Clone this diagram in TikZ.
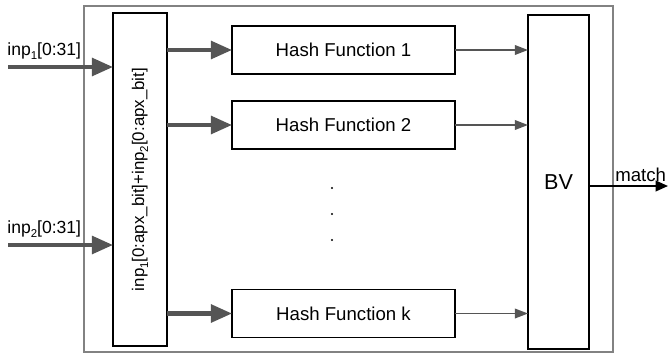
\documentclass[tikz,border=0pt]{standalone}
\usepackage{fontspec}
\setmainfont{Liberation Sans}
\usetikzlibrary{arrows.meta,positioning,calc}
\definecolor{arrgray}{RGB}{85,85,85}
\definecolor{framegray}{RGB}{130,130,130}
\newcommand{\lowsub}[1]{\raisebox{-0.45ex}{\fontsize{6.5}{7}\selectfont #1}}
\tikzset{blk/.style={draw=black,line width=1.1pt,inner sep=0pt,outer sep=0pt},
	hashbox/.style={blk,minimum width=4.46cm,minimum height=0.96cm,font=\fontsize{10.6}{12}\selectfont},
	fatarrow/.style={arrgray,line width=2.3pt,-{Triangle[length=12pt,width=10pt]}},
	thinarrow/.style={arrgray,line width=0.9pt,-{Triangle[length=7.5pt,width=5.5pt]}}}

\begin{document}
\begin{tikzpicture}[x=0.02cm,y=-0.02cm]
\useasboundingbox (0,0) rectangle (668,358);
\draw[framegray,line width=0.6pt] (84,6) rectangle (613,352);

\node[blk,minimum width=1.08cm,minimum height=6.66cm] (mux) at (140,179.5) {};
\node[rotate=90,font=\fontsize{9.6}{11}\selectfont] at (mux.center) {inp\lowsub{1}[0:apx\_bit]+inp\lowsub{2}[0:apx\_bit]};
\node[blk,minimum width=1.22cm,minimum height=6.68cm,font=\fontsize{12.3}{14}\selectfont] (bv) at (558.5,182) {BV};

\foreach \k/\yy/\lab in {1/50/1,2/125/2,3/313.5/k} {
	\node[hashbox] (hf\k) at (343.5,\yy) {Hash Function \lab};
	\draw[fatarrow] (mux.east |- hf\k) -- (hf\k.west);
	\draw[thinarrow] (hf\k.east) -- (bv.west |- hf\k);
};

\foreach \yy in {188,214,240} {
	\fill (332,\yy) circle (0.6pt);
};

\coordinate (in1) at (8,67);
\coordinate (in2) at (8,245);
\node[anchor=base west,inner sep=0pt,font=\fontsize{10}{12}\selectfont] (lab1) at (7,55) {inp\lowsub{1}[0:31]};
\node[anchor=base west,inner sep=0pt,font=\fontsize{10}{12}\selectfont] (lab2) at (7,233) {inp\lowsub{2}[0:31]};
\draw[fatarrow] (in1) -- (mux.west |- in1);
\draw[fatarrow] (in2) -- (mux.west |- in2);

\coordinate (out) at (668,186);
\draw[black,line width=1.1pt,-{Triangle[length=7pt,width=6pt]}] (bv.east |- out) -- (out);
\node[anchor=base west,inner sep=0pt,font=\fontsize{10.6}{12}\selectfont] (mlab) at (615,181) {match};
\end{tikzpicture}
\end{document}
